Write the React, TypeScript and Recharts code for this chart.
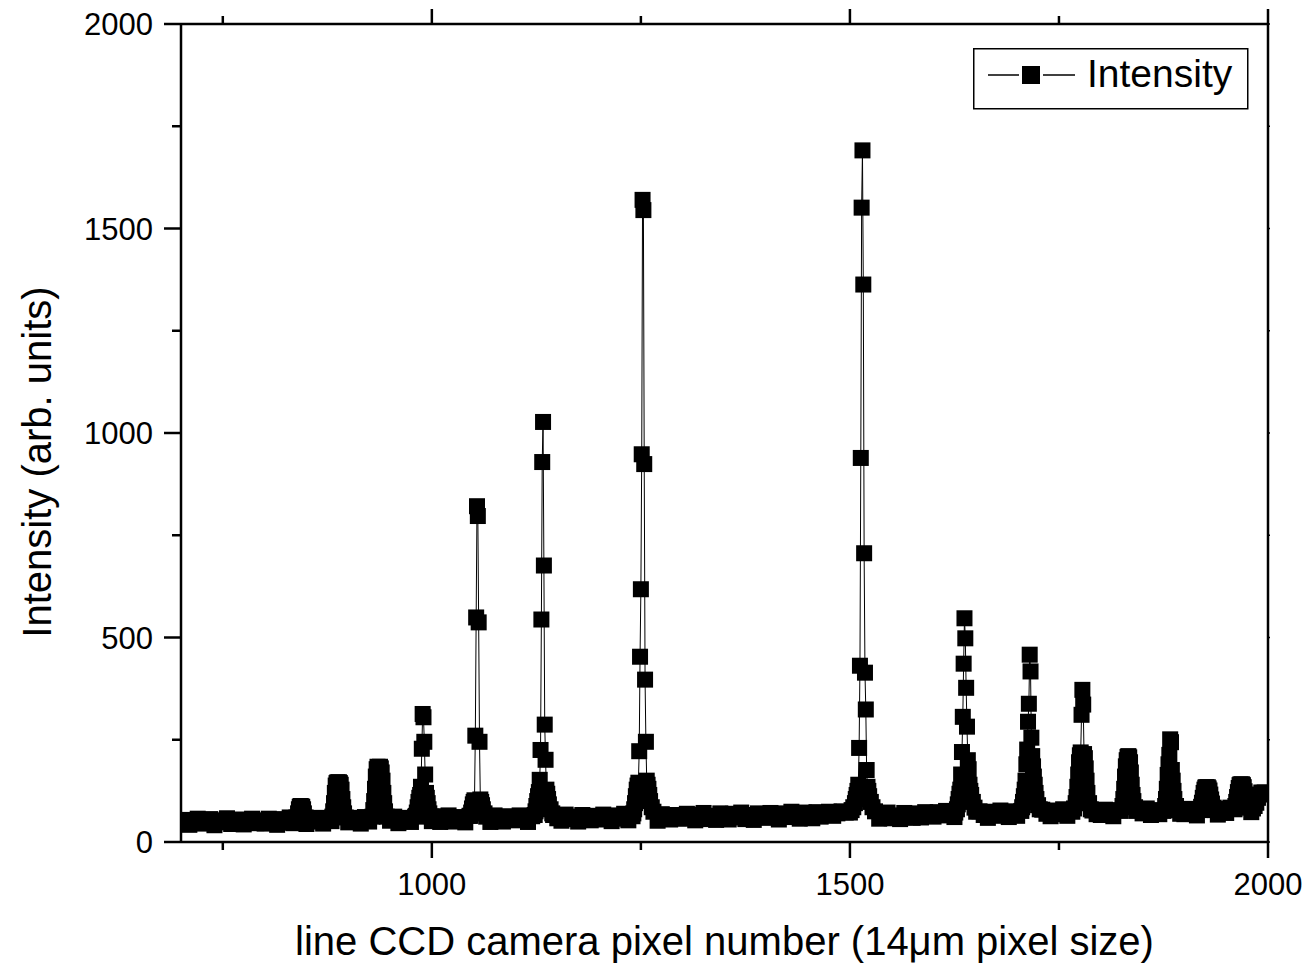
import { Legend, Line, LineChart, XAxis, YAxis } from 'recharts';

const FONT = '"Liberation Sans", Arial, Helvetica, sans-serif';

// camera pixel axis
const pixelDomain = [700, 2000];
const pixelTicks = [750, 1000, 1250, 1500, 1750, 2000];
const intensityDomain = [0, 2000];
const intensityTicks = [0, 250, 500, 750, 1000, 1250, 1500, 1750, 2000];

// background level, one reading every 5 pixels from 700 to 2000
const backgroundStart = 700;
const backgroundStep = 5;
const background = [
  44, 54, 42, 51, 57, 45, 50, 56, 41, 53, 48, 58, 44, 51, 55, 43, 50, 57, 46, 53,
  45, 57, 49, 42, 56, 47, 60, 46, 52, 58, 44, 54, 50, 59, 45, 55, 51, 43, 57, 50,
  48, 59, 53, 45, 61, 50, 56, 63, 47, 58, 52, 62, 46, 59, 53, 49, 62, 55, 47, 60,
  51, 63, 49, 57, 65, 50, 61, 55, 48, 64, 56, 66, 51, 59, 49, 65, 57, 50, 63, 56,
  53, 65, 57, 49, 63, 67, 54, 61, 51, 66, 58, 52, 67, 56, 62, 50, 66, 59, 53, 64,
  55, 67, 59, 51, 65, 57, 69, 53, 63, 70, 54, 60, 67, 56, 52, 68, 61, 55, 66, 58,
  57, 69, 61, 53, 67, 71, 56, 64, 54, 70, 62, 55, 69, 60, 72, 56, 66, 54, 70, 62,
  59, 71, 63, 55, 70, 61, 74, 64, 57, 72, 65, 58, 73, 62, 68, 74, 64, 70, 75, 72,
  78, 72, 66, 60, 71, 59, 68, 57, 66, 72, 58, 65, 56, 71, 62, 59, 70, 60, 73, 64,
  62, 73, 65, 76, 67, 61, 74, 64, 78, 68, 62, 75, 66, 59, 74, 64, 77, 68, 61, 75,
  64, 77, 68, 61, 76, 67, 79, 69, 63, 77, 68, 80, 64, 76, 67, 78, 69, 62, 77, 68,
  66, 79, 70, 63, 78, 68, 81, 71, 65, 79, 70, 82, 66, 78, 68, 80, 71, 64, 79, 69,
  68, 81, 72, 65, 80, 70, 83, 73, 67, 81, 71, 84, 68, 80, 70, 82, 73, 66, 81, 72,
  74,
];

// emission lines, [pixel, counts]
const line843 = [[838, 60], [840, 70], [841, 80], [842, 86], [843, 88], [844, 87], [845, 86], [846, 80], [847, 70], [849, 60]];
const line888 = [[881, 62], [882, 75], [883, 95], [884, 120], [885, 138], [886, 144], [887, 146], [888, 145], [889, 146], [890, 144], [891, 140], [892, 128], [893, 105], [894, 85], [895, 70], [897, 60]];
const line936 = [[929, 62], [930, 78], [931, 100], [932, 130], [933, 160], [934, 178], [935, 184], [936, 183], [937, 182], [938, 184], [939, 180], [940, 170], [941, 150], [942, 120], [943, 95], [944, 75], [946, 62]];
const line989 = [[981, 64], [982, 72], [983, 85], [984, 98], [985, 108], [986, 115], [987, 135], [988, 228], [989, 313], [990, 305], [991, 245], [992, 165], [993, 120], [994, 108], [995, 95], [996, 80], [997, 70], [999, 62]];
const line1054 = [[1046, 64], [1047, 72], [1048, 82], [1049, 92], [1050, 98], [1051, 102], [1052, 260], [1053, 549], [1054, 821], [1055, 797], [1056, 537], [1057, 245], [1058, 104], [1059, 98], [1060, 90], [1061, 80], [1063, 70], [1065, 62]];
const line1133 = [[1123, 66], [1124, 75], [1125, 88], [1126, 100], [1127, 112], [1128, 122], [1129, 152], [1130, 225], [1131, 544], [1132, 929], [1133, 1027], [1134, 676], [1135, 287], [1136, 201], [1137, 128], [1138, 118], [1139, 105], [1140, 92], [1142, 80], [1144, 70]];
const line1252 = [[1241, 70], [1242, 80], [1243, 95], [1244, 112], [1245, 128], [1246, 138], [1247, 145], [1248, 222], [1249, 453], [1250, 618], [1251, 948], [1252, 1570], [1253, 1545], [1254, 924], [1255, 397], [1256, 245], [1257, 150], [1258, 140], [1259, 130], [1260, 115], [1261, 100], [1263, 85], [1265, 74]];
const line1515 = [[1500, 72], [1502, 78], [1504, 85], [1506, 95], [1507, 105], [1508, 115], [1509, 125], [1510, 140], [1511, 230], [1512, 431], [1513, 939], [1514, 1551], [1515, 1691], [1516, 1363], [1517, 706], [1518, 414], [1519, 324], [1520, 176], [1521, 135], [1522, 125], [1523, 112], [1525, 98], [1527, 85], [1530, 75]];
const line1637 = [[1626, 72], [1628, 80], [1629, 92], [1630, 105], [1631, 118], [1632, 128], [1633, 165], [1634, 220], [1635, 306], [1636, 436], [1637, 547], [1638, 498], [1639, 377], [1640, 282], [1641, 200], [1642, 178], [1643, 140], [1644, 125], [1645, 115], [1647, 98], [1649, 84], [1651, 74]];
const line1715 = [[1705, 76], [1706, 85], [1707, 98], [1708, 112], [1709, 128], [1710, 150], [1711, 190], [1712, 226], [1713, 294], [1714, 338], [1715, 458], [1716, 417], [1717, 255], [1718, 210], [1719, 185], [1720, 160], [1721, 140], [1722, 120], [1723, 105], [1725, 90], [1727, 80]];
const line1778 = [[1766, 74], [1768, 82], [1770, 95], [1771, 110], [1772, 135], [1773, 165], [1774, 195], [1775, 212], [1776, 219], [1777, 311], [1778, 372], [1779, 336], [1780, 215], [1781, 205], [1782, 180], [1783, 150], [1784, 120], [1786, 95], [1788, 80]];
const line1833 = [[1824, 76], [1826, 88], [1827, 105], [1828, 130], [1829, 160], [1830, 185], [1831, 200], [1832, 208], [1833, 210], [1834, 207], [1835, 195], [1836, 170], [1837, 140], [1838, 115], [1839, 100], [1841, 85], [1843, 76]];
const line1883 = [[1875, 76], [1877, 88], [1878, 105], [1879, 130], [1880, 164], [1881, 190], [1882, 213], [1883, 251], [1884, 244], [1885, 176], [1886, 150], [1887, 125], [1888, 105], [1890, 88], [1892, 78]];
const line1927 = [[1919, 78], [1920, 86], [1921, 96], [1922, 108], [1923, 120], [1924, 128], [1925, 133], [1926, 134], [1927, 132], [1928, 134], [1929, 131], [1930, 126], [1931, 116], [1932, 104], [1933, 94], [1935, 84], [1937, 78]];
const line1968 = [[1960, 80], [1961, 88], [1962, 98], [1963, 110], [1964, 122], [1965, 132], [1966, 139], [1967, 141], [1968, 140], [1969, 141], [1970, 139], [1971, 134], [1972, 124], [1973, 112], [1974, 100], [1976, 90], [1978, 84]];
const line1995 = [[1982, 82], [1984, 88], [1986, 96], [1988, 108], [1990, 116], [1992, 121], [1994, 120], [1996, 121], [1998, 119], [2000, 118]];

const emissionLines = [
  line843, line888, line936, line989, line1054, line1133, line1252, line1515,
  line1637, line1715, line1778, line1833, line1883, line1927, line1968, line1995,
];

// background readings outside the line windows, plus every line reading, in pixel order
const spectrum: { pixel: number; intensity: number }[] = [];
background.forEach((v, i) => {
  const pixel = backgroundStart + i * backgroundStep;
  const inLine = emissionLines.some((l) => pixel >= l[0][0] && pixel <= l[l.length - 1][0]);
  if (!inLine) spectrum.push({ pixel, intensity: v });
});
emissionLines.forEach((l) => l.forEach(([pixel, intensity]) => spectrum.push({ pixel, intensity })));
spectrum.sort((a, b) => a.pixel - b.pixel);

const AXIS = '#000';
const AXIS_W = 2.5;

const SquareDot = (props: any) => {
  const { cx, cy, index } = props;
  if (cx == null || cy == null) return <g key={index} />;
  return <rect key={index} x={cx - 8} y={cy - 8} width={16} height={16} fill="#000" />;
};

const BottomTick = ({ x, y, payload }: any) => {
  const major = payload.value % 500 === 0;
  return (
    <g>
      <line x1={x} x2={x} y1={y} y2={y + (major ? 16 : 8)} stroke={AXIS} strokeWidth={AXIS_W} />
      {major && (
        <text x={x} y={y + 53} textAnchor="middle" fontFamily={FONT} fontSize={31} fill="#000">
          {payload.value}
        </text>
      )}
    </g>
  );
};

const TopTick = ({ x, y, payload }: any) => {
  const major = payload.value % 500 === 0;
  return <line x1={x} x2={x} y1={y} y2={y - (major ? 15 : 8)} stroke={AXIS} strokeWidth={AXIS_W} />;
};

const LeftTick = ({ x, y, payload }: any) => {
  const major = payload.value % 500 === 0;
  return (
    <g>
      <line x1={x} x2={x - (major ? 17 : 9)} y1={y} y2={y} stroke={AXIS} strokeWidth={AXIS_W} />
      {major && (
        <text x={x - 28} y={y + 11} textAnchor="end" fontFamily={FONT} fontSize={31} fill="#000">
          {payload.value}
        </text>
      )}
    </g>
  );
};

const RightTick = ({ x, y }: any) => (
  <line x1={x} x2={x + 2} y1={y} y2={y} stroke={AXIS} strokeWidth={1.5} />
);

const XTitle = ({ viewBox }: any) => (
  <text
    x={viewBox.x + viewBox.width / 2}
    y={viewBox.y + 113}
    textAnchor="middle"
    fontFamily={FONT}
    fontSize={40}
    fill="#000"
  >
    line CCD camera pixel number (14μm pixel size)
  </text>
);

const YTitle = ({ viewBox }: any) => {
  const x = viewBox.x + 51;
  const y = viewBox.y + viewBox.height / 2 + 29;
  return (
    <text x={x} y={y} transform={`rotate(-90, ${x}, ${y})`} textAnchor="middle" fontFamily={FONT} fontSize={40} fill="#000">
      Intensity (arb. units)
    </text>
  );
};

const LegendBox = () => (
  <svg width={276} height={62} style={{ display: 'block' }}>
    <rect x={0.75} y={0.75} width={274} height={60} fill="#fff" stroke="#000" strokeWidth={1.5} />
    <line x1={15} x2={46} y1={27} y2={27} stroke="#000" strokeWidth={1.5} />
    <rect x={49} y={18} width={18} height={18} fill="#000" />
    <line x1={70} x2={102} y1={27} y2={27} stroke="#000" strokeWidth={1.5} />
    <text x={114} y={39} fontFamily={FONT} fontSize={39} fill="#000">
      Intensity
    </text>
  </svg>
);

export default function App() {
  return (
    <div style={{ position: 'absolute', left: 0, top: 0, background: '#fff' }}>
      <LineChart width={1306} height={965} data={spectrum} margin={{ top: 0, right: 0, bottom: 0, left: 0 }}>
        <XAxis
          xAxisId="bottom"
          dataKey="pixel"
          type="number"
          domain={pixelDomain}
          ticks={pixelTicks}
          interval={0}
          allowDataOverflow
          height={123}
          tickSize={0}
          tickMargin={0}
          tick={<BottomTick />}
          axisLine={{ stroke: AXIS, strokeWidth: AXIS_W }}
          label={<XTitle />}
        />
        <XAxis
          xAxisId="top"
          orientation="top"
          dataKey="pixel"
          type="number"
          domain={pixelDomain}
          ticks={pixelTicks}
          interval={0}
          allowDataOverflow
          height={24}
          tickSize={0}
          tickMargin={0}
          tick={<TopTick />}
          axisLine={{ stroke: AXIS, strokeWidth: AXIS_W }}
        />
        <YAxis
          yAxisId="left"
          type="number"
          domain={intensityDomain}
          ticks={intensityTicks}
          interval={0}
          allowDataOverflow
          width={181}
          tickSize={0}
          tickMargin={0}
          tick={<LeftTick />}
          axisLine={{ stroke: AXIS, strokeWidth: AXIS_W }}
          label={<YTitle />}
        />
        <YAxis
          yAxisId="right"
          orientation="right"
          type="number"
          domain={intensityDomain}
          ticks={intensityTicks}
          interval={0}
          allowDataOverflow
          width={38}
          tickSize={0}
          tickMargin={0}
          tick={<RightTick />}
          axisLine={{ stroke: AXIS, strokeWidth: AXIS_W }}
        />
        <Legend
          layout="vertical"
          align="center"
          verticalAlign="middle"
          wrapperStyle={{ left: 973, top: 48, width: 276, height: 62 }}
          content={() => <LegendBox />}
        />
        <Line
          xAxisId="bottom"
          yAxisId="left"
          dataKey="intensity"
          name="Intensity"
          type="linear"
          stroke="#000"
          strokeWidth={1}
          dot={SquareDot}
          activeDot={false}
          isAnimationActive={false}
        />
      </LineChart>
    </div>
  );
}
